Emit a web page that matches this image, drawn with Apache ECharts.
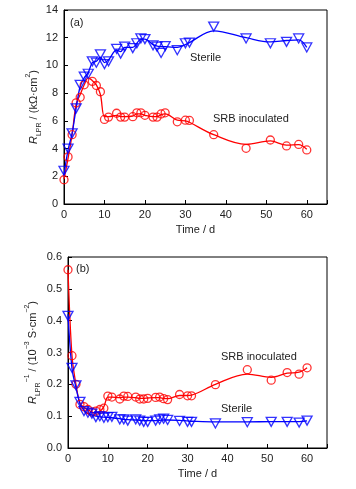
<!DOCTYPE html>
<html><head><meta charset="utf-8">
<script src="https://cdn.jsdelivr.net/npm/echarts@6/dist/echarts.min.js"></script>
<style>html,body{margin:0;padding:0;background:#fff}#c{width:356px;height:489px}</style>
</head><body><div id="c"></div>
<script>
const days = [0,1,2,3,4,5,6,7,8,9,10,11,13,14,15,17,18,19,20,22,23,24,25,28,30,31,37,45,51,55,58,60];
const xTicks = [0,10,20,30,40,50,60];
// (a) R_LPR, kΩ·cm²
const aSterile    = [2.4,4.0,5.1,6.9,8.6,9.2,9.4,10.3,10.2,10.8,10.1,10.3,11.2,10.85,11.35,11.25,11.6,11.95,11.9,11.45,11.35,10.9,11.4,11.1,11.6,11.65,12.8,11.95,11.6,11.7,11.95,11.3];
const aSterileFit = [2.1,3.9,5.1,6.9,8.5,9.1,9.5,10.2,10.3,10.6,10.2,10.4,11.1,11.0,11.3,11.3,11.6,11.9,11.9,11.5,11.4,11.35,11.35,11.3,11.5,11.65,12.5,12.0,11.7,11.8,11.85,11.3];
const aSRB        = [1.75,3.4,5.0,7.3,7.7,8.6,null,8.85,8.55,8.1,6.1,6.27,6.55,6.27,6.27,6.3,6.58,6.58,6.4,6.27,6.27,6.5,6.58,5.93,6.05,6.03,5.0,4.02,4.62,4.19,4.3,3.9];
const aSRBFit     = [1.8,3.3,5.0,7.2,7.9,8.6,9.1,8.9,8.6,7.9,6.3,6.3,6.4,6.3,6.3,6.35,6.5,6.5,6.4,6.3,6.3,6.45,6.5,6.05,6.0,5.9,5.0,4.3,4.55,4.25,4.28,3.95];
// (b) R_LPR^-1, 10^-3 S·cm^-2
const bSterile    = [0.415,0.252,0.197,0.145,0.116,0.111,0.108,0.097,0.1,0.095,0.097,0.098,0.09,0.09,0.086,0.09,0.086,0.082,0.082,0.086,0.09,0.092,0.088,0.085,0.082,0.082,0.077,0.081,0.082,0.082,0.08,0.086];
const bSterileFit = [0.42,0.25,0.19,0.14,0.118,0.108,0.104,0.1,0.098,0.097,0.096,0.095,0.092,0.09,0.089,0.088,0.087,0.086,0.086,0.086,0.087,0.088,0.088,0.087,0.085,0.084,0.082,0.082,0.083,0.083,0.083,0.085];
const bSRB        = [0.56,0.29,0.2,0.137,0.13,0.121,0.113,0.116,0.121,0.125,0.163,0.16,0.154,0.163,0.162,0.16,0.154,0.154,0.156,0.159,0.16,0.155,0.152,0.168,0.164,0.164,0.199,0.246,0.213,0.237,0.232,0.252];
const bSRBFit     = [0.56,0.29,0.2,0.14,0.128,0.12,0.113,0.11,0.115,0.13,0.16,0.16,0.158,0.16,0.16,0.158,0.156,0.156,0.157,0.158,0.158,0.156,0.155,0.165,0.165,0.166,0.2,0.232,0.222,0.235,0.238,0.252];

const FONT = 'Liberation Sans';
const RED = '#ff0000', BLUE = '#0000ff';
const pairs = (ys) => days.map((d,i) => ys[i] == null ? null : [d, ys[i]]).filter(p => p);

function xAx(gi){
  return {gridIndex: gi, type:'value', min:0, max:65, interval:10,
    name:'Time / d', nameLocation:'middle', nameGap:20, nameMoveOverlap:false,
    nameTextStyle:{fontFamily:FONT, fontSize:11, color:'#222'},
    axisLine:{lineStyle:{color:'#000'}}, axisTick:{inside:true, length:4, lineStyle:{color:'#000'}},
    axisLabel:{fontFamily:FONT, fontSize:11, color:'#222', margin:5,
      formatter: v => xTicks.indexOf(v) >= 0 ? String(v) : ''},
    splitLine:{show:false}};
}
const rich = {
  i:{fontFamily:FONT, fontSize:11, fontStyle:'italic', color:'#222', lineHeight:18, verticalAlign:'middle'},
  n:{fontFamily:FONT, fontSize:11, color:'#222', lineHeight:18, verticalAlign:'middle'},
  sub:{fontFamily:FONT, fontSize:7, color:'#222', lineHeight:18, verticalAlign:'bottom'},
  sup:{fontFamily:FONT, fontSize:7, color:'#222', lineHeight:18, verticalAlign:'top'}
};
function yAx(gi, max, interval, name, dec, gap){
  return {gridIndex: gi, type:'value', min:0, max:max, interval:interval,
    name:name, nameLocation:'middle', nameGap:gap, nameRotate:90, nameMoveOverlap:false,
    nameTextStyle:{rich:rich},
    axisLine:{lineStyle:{color:'#000'}}, axisTick:{inside:true, length:4, lineStyle:{color:'#000'}},
    axisLabel:{fontFamily:FONT, fontSize:11, color:'#222', margin:6,
      formatter: v => v.toFixed(dec)},
    splitLine:{show:false}};
}
function lineS(gi, ys, color){
  return {type:'line', xAxisIndex:gi, yAxisIndex:gi, data:pairs(ys), smooth:0.35,
    showSymbol:false, symbol:'none', lineStyle:{color:color, width:1.3}, silent:true, z:2};
}
function circS(gi, ys){
  return {type:'scatter', xAxisIndex:gi, yAxisIndex:gi, data:pairs(ys), symbol:'circle', symbolSize:8,
    itemStyle:{color:'rgba(255,255,255,0)', borderColor:RED, borderWidth:1.3}, z:3};
}
function triS(gi, ys){
  return {type:'scatter', xAxisIndex:gi, yAxisIndex:gi, data:pairs(ys), symbol:'triangle', symbolRotate:180, symbolSize:[10,9],
    itemStyle:{color:'rgba(255,255,255,0)', borderColor:BLUE, borderWidth:1.3}, z:4};
}
const txt = (left, top, s) => ({type:'text', left:left, top:top,
  style:{text:s, fontFamily:FONT, fontSize:11, fill:'#222'}});

const chart = echarts.init(document.getElementById('c'), null, {renderer:'canvas'});
chart.setOption({
  backgroundColor:'#fff', animation:false,
  grid:[
    {left:64, right:29, top:10, height:194, show:true, borderColor:'#000', borderWidth:1, backgroundColor:'transparent'},
    {left:68, right:29, top:257, height:191, show:true, borderColor:'#000', borderWidth:1, backgroundColor:'transparent'}
  ],
  xAxis:[xAx(0), xAx(1)],
  yAxis:[
    yAx(0, 14, 2, '{i|R}{sub|LPR}{n| / (kΩ·cm}{sup|2}{n|)}', 0, 21),
    yAx(1, 0.6, 0.1, '{i|R}{sub|LPR}{sup|−1}{n| / (10}{sup|−3}{n| S·cm}{sup|−2}{n|)}', 1, 26)
  ],
  graphic:[
    txt(70, 17, '(a)'), txt(190, 52, 'Sterile'), txt(213, 113, 'SRB inoculated'),
    txt(76, 263, '(b)'), txt(221, 351, 'SRB inoculated'), txt(221, 403, 'Sterile')
  ],
  series:[
    lineS(0, aSRBFit, RED), circS(0, aSRB),
    lineS(0, aSterileFit, BLUE), triS(0, aSterile),
    lineS(1, bSRBFit, RED), circS(1, bSRB),
    lineS(1, bSterileFit, BLUE), triS(1, bSterile)
  ]
});
</script></body></html>
